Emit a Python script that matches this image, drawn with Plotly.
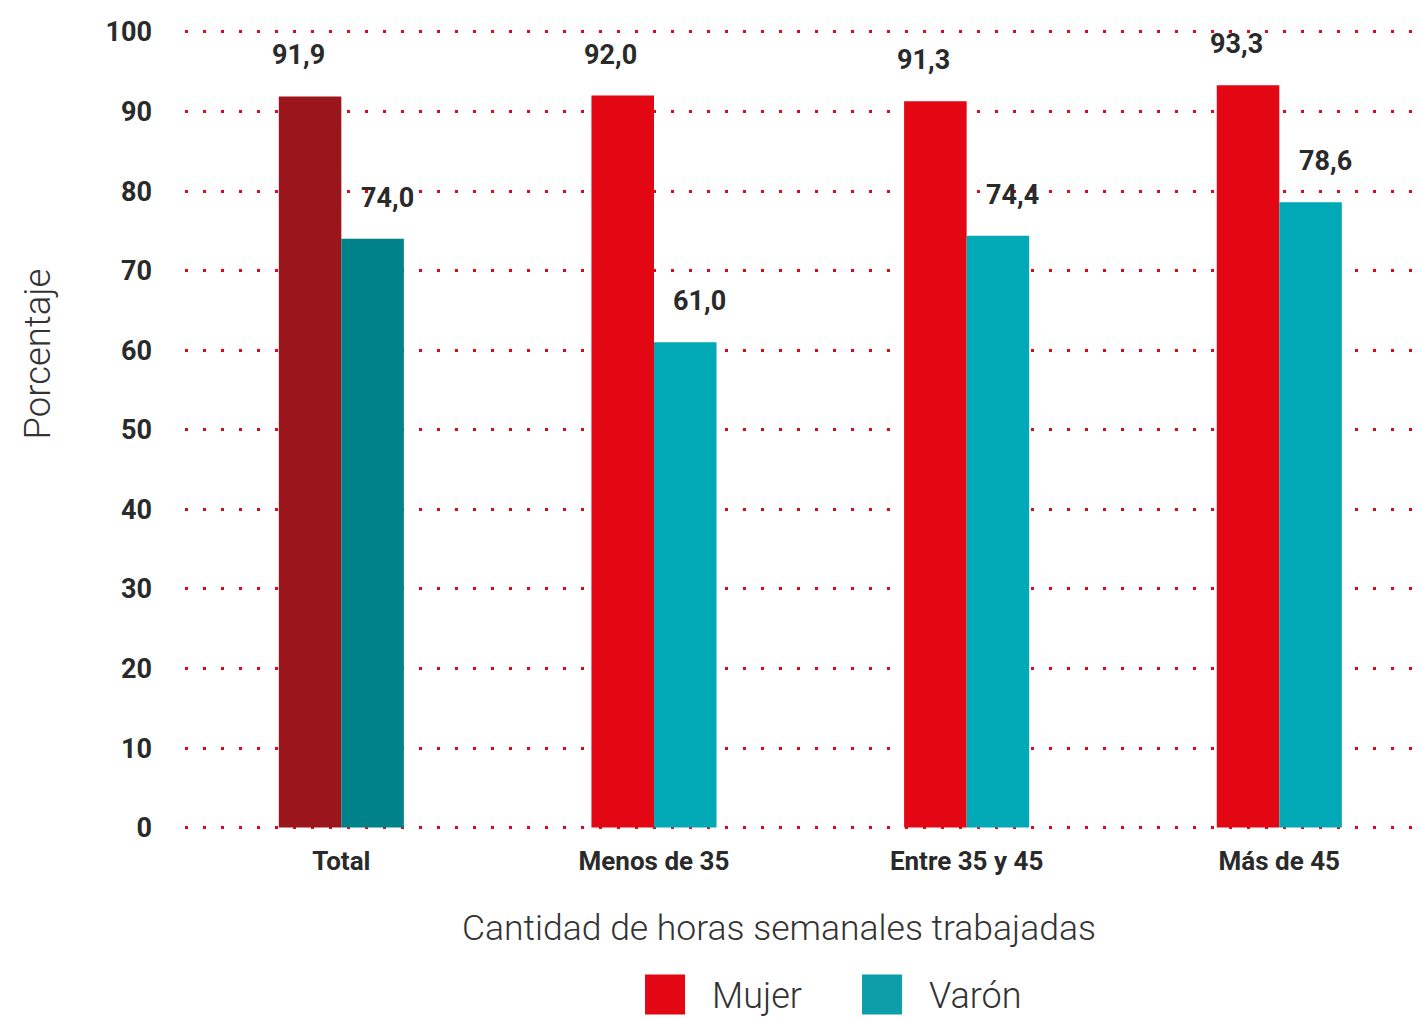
import plotly.graph_objects as go

categorias = ["Total", "Menos de 35", "Entre 35 y 45", "Más de 45"]
mujer = [91.9, 92.0, 91.3, 93.3]
varon = [74.0, 61.0, 74.4, 78.6]
mujer_colores = ["#9B151D", "#E30613", "#E30613", "#E30613"]
varon_colores = ["#00828A", "#00A9B5", "#00A9B5", "#00A9B5"]
y_ticks = [0, 10, 20, 30, 40, 50, 60, 70, 80, 90, 100]

FONT = "Roboto"
DARK = "#2a2a2a"

fig = go.Figure()
fig.add_trace(go.Bar(x=categorias, y=mujer, name="Mujer",
                     marker=dict(color=mujer_colores, line=dict(width=0))))
fig.add_trace(go.Bar(x=categorias, y=varon, name="Varón",
                     marker=dict(color=varon_colores, line=dict(width=0))))

# etiquetas de valores
for cat, m, v in zip(categorias, mujer, varon):
    for val, dx in ((m, -43), (v, 46)):
        fig.add_annotation(x=cat, y=val, xref="x", yref="y", text=f"{val:.1f}".replace(".", ","),
                           showarrow=False, xshift=dx, yshift=41, yanchor="middle",
                           font=dict(family=FONT, size=27, color=DARK, weight="bold"))

# títulos de ejes
fig.add_annotation(x=0.481, y=-0.121, xref="paper", yref="paper",
                   text="Cantidad de horas semanales trabajadas", showarrow=False,
                   xanchor="center", yanchor="middle",
                   font=dict(family=FONT, size=35.5, color="#333333", weight=300))
fig.add_annotation(x=-0.1198, y=0.590, xref="paper", yref="paper", text="Porcentaje",
                   showarrow=False, textangle=-90, xanchor="center", yanchor="middle",
                   font=dict(family=FONT, size=36.5, color="#333333", weight=300))

# leyenda
for x0, color, label in ((0.3725, "#E30613", "Mujer"), (0.5482, "#0E9EA9", "Varón")):
    fig.add_shape(type="rect", xref="paper", yref="paper", x0=x0, x1=x0 + 0.0324,
                  y0=-0.2290, y1=-0.1794, fillcolor=color, line=dict(width=0))
    fig.add_annotation(x=x0 + 0.0526, y=-0.2055, xref="paper", yref="paper", text=label,
                       showarrow=False, xanchor="left", yanchor="middle",
                       font=dict(family=FONT, size=36, color="#333333", weight=300))

fig.update_layout(
    width=1413, height=1011,
    margin=dict(l=177, r=1, t=16, b=189),
    barmode="group", bargap=0.6, bargroupgap=0,
    showlegend=False,
    plot_bgcolor="white", paper_bgcolor="white",
    font=dict(family=FONT, color=DARK),
)
fig.update_xaxes(range=[-0.5, 3.45], showgrid=False, showline=False, zeroline=False,
                 ticks="", ticklabelstandoff=13,
                 tickfont=dict(family=FONT, size=26, color=DARK, weight="bold"))
fig.update_yaxes(range=[-0.3, 101], tickvals=y_ticks, showgrid=True, gridcolor="#E30613",
                 gridwidth=3, griddash="3px,15px", zeroline=False, showline=False,
                 ticks="", ticklabelstandoff=32,
                 tickfont=dict(family=FONT, size=27, color=DARK, weight="bold"))

fig.write_html("out.html")
